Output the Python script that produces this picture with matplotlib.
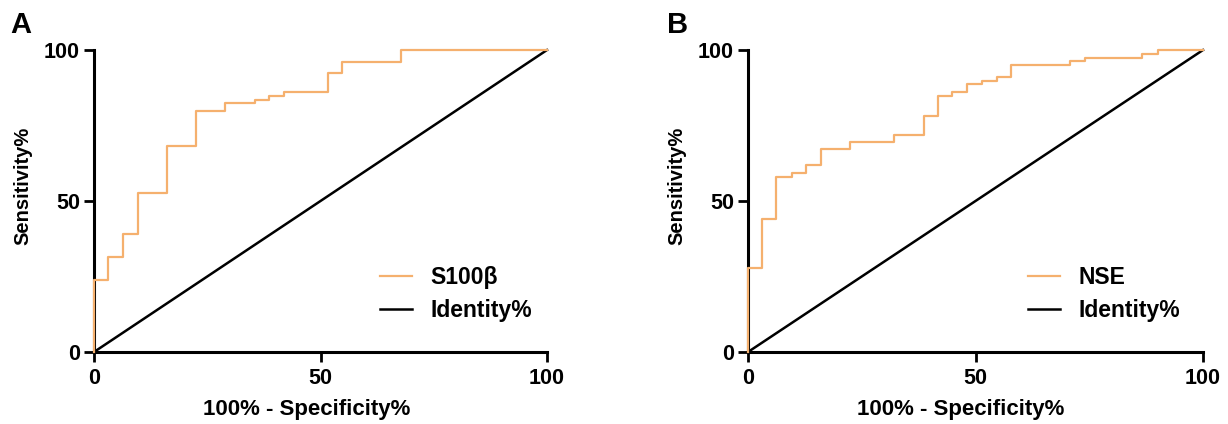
import numpy as np
import matplotlib
matplotlib.use('Agg')
import matplotlib.pyplot as plt

plt.rcParams['font.family'] = ['Liberation Sans', 'DejaVu Sans']
plt.rcParams['font.weight'] = 'bold'

orange = '#F5B06E'

# S100b ROC (step corners)
s100_fpr = [0, 0, 3.2, 6.5, 9.7, 16.1, 22.6, 29.0, 35.5, 38.7, 41.9, 51.6, 54.8, 67.7, 100]
s100_tpr = [0, 24.0, 31.3, 39.0, 52.8, 68.3, 79.8, 82.3, 83.6, 84.9, 86.2, 92.5, 96.1, 100, 100]

# NSE ROC
nse_fpr = [0, 0, 3.1, 6.2, 9.7, 12.8, 16.1, 22.4, 32.1, 38.6, 41.8, 44.9, 48.2, 51.5, 54.8,
           57.8, 70.7, 74.0, 86.7, 90.0, 100]
nse_tpr = [0, 27.7, 44.1, 58.0, 59.3, 61.9, 67.1, 69.6, 72.0, 78.3, 84.8, 86.2, 88.7, 89.9,
           91.1, 95.0, 96.2, 97.4, 98.7, 100, 100]

identity = [0, 100]
ticks = [0, 50, 100]

fig = plt.figure(figsize=(12.28, 4.24), dpi=100)
axA = fig.add_axes([94/1228, 1-352/424, 453/1228, 302/424])
axB = fig.add_axes([748/1228, 1-352/424, 455/1228, 302/424])

def draw(ax, fpr, tpr, name, letter, leg_x, letter_x, w):
    ax.step(fpr, tpr, where='post', color=orange, lw=1.6, label=name, clip_on=False, zorder=3)
    ax.plot(identity, identity, color='black', lw=1.8, label='Identity%', clip_on=False, zorder=2)
    ax.set_xlim(0, 100)
    ax.set_ylim(0, 100)
    ax.set_xticks(ticks)
    ax.set_yticks(ticks)
    for s in ['top', 'right']:
        ax.spines[s].set_visible(False)
    for s in ['left', 'bottom']:
        ax.spines[s].set_linewidth(2.2)
    ax.tick_params(axis='x', width=2.0, length=7, labelsize=15.5, pad=4.5)
    ax.tick_params(axis='y', width=2.0, length=7, labelsize=15.5, pad=3)
    for lab in ax.get_xticklabels() + ax.get_yticklabels():
        lab.set_fontweight('bold')
    ax.set_xlabel('100% - Specificity%', fontsize=16, fontweight='bold')
    ax.set_ylabel('Sensitivity%', fontsize=14.5, fontweight='bold')
    ax.xaxis.set_label_coords((307 - 94) / 453 * 453 / w, -0.19)
    ax.yaxis.set_label_coords(-71 / w, 0.55)
    ax.xaxis.label.set_va('center')
    ax.yaxis.label.set_va('center')
    leg = ax.legend(loc='center left', bbox_to_anchor=(leg_x, 0.193), frameon=False,
                    fontsize=16.5, handlelength=1.4, handletextpad=0.8, labelspacing=0.45,
                    borderpad=0, borderaxespad=0)
    for t in leg.get_texts():
        t.set_fontweight('bold')
    ax.text(letter_x, 1.083, letter, transform=ax.transAxes, fontsize=21, fontweight='bold',
            va='center', ha='left')

draw(axA, s100_fpr, s100_tpr, 'S100β', 'A', 0.631, -0.185, 453)
draw(axB, nse_fpr, nse_tpr, 'NSE', 'B', 0.615, -0.178, 455)

fig.savefig('out.png', dpi=100)
